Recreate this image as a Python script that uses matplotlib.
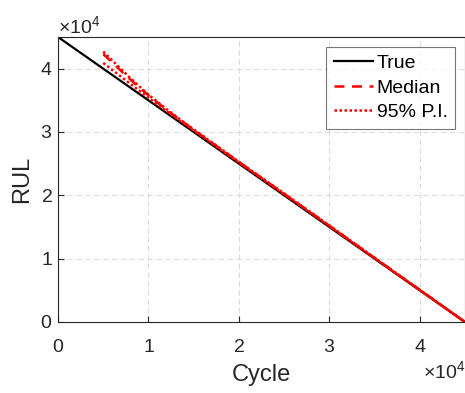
import matplotlib
matplotlib.use("Agg")
import matplotlib.pyplot as plt
from matplotlib.ticker import ScalarFormatter

plt.rcParams['font.family'] = ['Liberation Sans', 'DejaVu Sans']
plt.rcParams['mathtext.fontset'] = 'custom'
plt.rcParams['mathtext.rm'] = 'Liberation Sans'

# true remaining useful life
true_cycle = [0, 45000]
true_rul = [45000, 0]

# predicted RUL at selected cycles
pred_cycle = [5000, 6000, 7000, 8000, 9000, 10000, 12000, 14000, 16000,
              18000, 20000, 25000, 30000, 35000, 40000, 45000]
median_rul = [42300, 41000, 39600, 38300, 37000, 35800, 33500, 31380, 29330,
              27300, 25260, 20240, 15200, 10120, 5070, 0]
upper_rul = [42700, 41300, 39900, 38500, 37200, 35900, 33600, 31450, 29400,
             27350, 25300, 20300, 15250, 10150, 5100, 0]
lower_rul = [40900, 39800, 38700, 37600, 36500, 35400, 33300, 31250, 29220,
             27200, 25180, 20160, 15130, 10060, 5020, 0]

fig = plt.figure(figsize=(4.65, 3.93), dpi=100)
ax = fig.add_axes([58 / 465, 71 / 393, 407 / 465, 285 / 393])

ax.plot(true_cycle, true_rul, color='black', lw=1.6, label='True')
ax.plot(pred_cycle, median_rul, color='red', lw=1.8, ls=(0, (4, 3)), label='Median')
ax.plot(pred_cycle, upper_rul, color='red', lw=1.8, ls=(0, (1, 1)), label='95% P.I.')
ax.plot(pred_cycle, lower_rul, color='red', lw=1.8, ls=(0, (1, 1)))

ax.set_xlim(0, 45000)
ax.set_ylim(0, 45000)
ax.set_xticks([0, 10000, 20000, 30000, 40000])
ax.set_yticks([0, 10000, 20000, 30000, 40000])

for axis in (ax.xaxis, ax.yaxis):
    fmt = ScalarFormatter(useMathText=True)
    fmt.set_powerlimits((0, 0))
    axis.set_major_formatter(fmt)

ax.grid(True, color='#dcdcdc', ls=(0, (5, 3)), lw=0.8)
ax.tick_params(direction='in', labelsize=14, colors='#262626', length=4, width=0.8)
ax.tick_params(axis='x', pad=12)
ax.tick_params(axis='y', pad=4)
for off in (ax.xaxis.get_offset_text(), ax.yaxis.get_offset_text()):
    off.set_fontsize(14)
    off.set_color('#262626')
for s in ax.spines.values():
    s.set_color('#262626')
    s.set_linewidth(0.8)

ax.set_xlabel('Cycle', fontsize=17, color='#262626', labelpad=6)
ax.set_ylabel('RUL', fontsize=17, color='#262626', labelpad=5)

leg = ax.legend(loc='upper right', fontsize=14, frameon=True, fancybox=False,
                edgecolor='#555555', handlelength=2.0, handletextpad=0.2,
                borderpad=0.4, labelspacing=0.35, borderaxespad=0.5)
leg.get_frame().set_linewidth(0.8)

fig.savefig('out.png', dpi=100)
